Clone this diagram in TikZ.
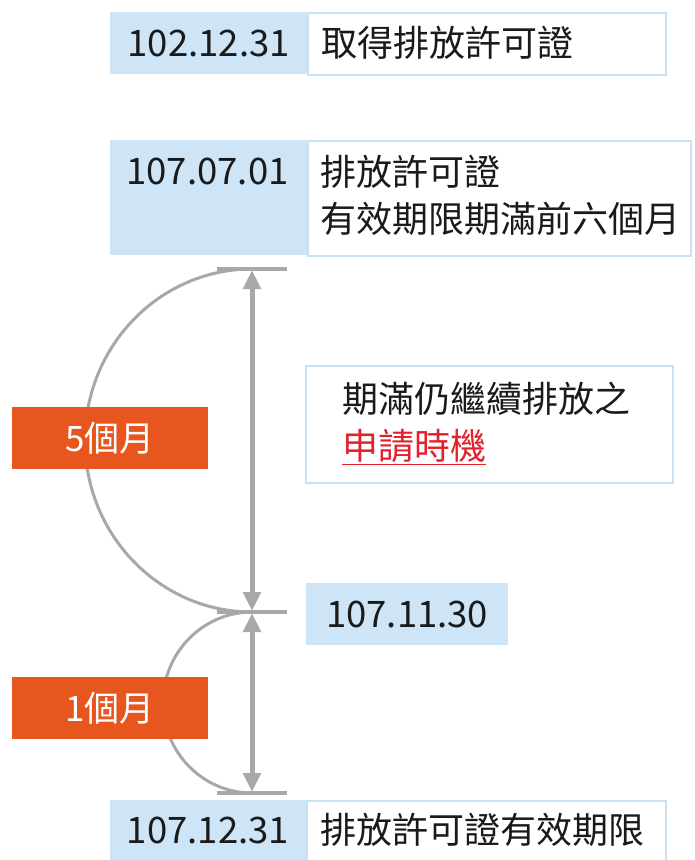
\documentclass[tikz,border=0pt]{standalone}
\usepackage{fontspec}
\setmainfont{Noto Sans CJK TC}
\usetikzlibrary{arrows.meta}
\definecolor{dateblue}{HTML}{CDE5F6}
\definecolor{edgeblue}{HTML}{C9E2F3}
\definecolor{orng}{HTML}{E8561F}
\definecolor{lgray}{HTML}{A8A8A8}
\definecolor{redtxt}{HTML}{E3212D}
\definecolor{ink}{HTML}{1A1A1A}
\begin{document}
\begin{tikzpicture}[x=1pt,y=-1pt,
  datebox/.style={fill=dateblue, inner sep=0pt, anchor=north west},
  datetext/.style={inner sep=0pt, font=\fontsize{36.5}{40}\selectfont, text=ink},
  descbox/.style={fill=white, draw=edgeblue, line width=2pt, inner sep=0pt, anchor=north west},
  desctext/.style={inner sep=0pt, anchor=west, align=left, font=\fontsize{36}{47}\selectfont, text=ink},
  monthbox/.style={fill=orng, inner sep=0pt, minimum width=196pt, minimum height=62pt, text=white, font=\fontsize{35}{40}\selectfont},
  tick/.style={draw=lgray, line width=3.5pt},
  curve/.style={draw=lgray, line width=3pt},
  span/.style={draw=lgray, line width=5pt, {Triangle[width=17pt,length=19pt]}-{Triangle[width=17pt,length=19pt]}, shorten <=1pt, shorten >=1pt}
]
\useasboundingbox (0,0) rectangle (694,860);

% row 1
\node[datebox, minimum width=197pt, minimum height=62pt] (d1) at (110,12) {};
\node[datetext] (d1t) at (d1.center) {102.12.31};
\node[descbox, minimum width=358pt, minimum height=62pt] (t1) at (307,12) {};
\node[desctext] (t1t) at (321,43) {取得排放許可證};

% row 2
\node[datebox, minimum width=197pt, minimum height=115pt] (d2) at (110,140) {};
\node[datetext] (d2t) at (207.5,171) {107.07.01};
\node[descbox, minimum width=383pt, minimum height=115pt] (t2) at (307,140) {};
\node[desctext] (t2t) at (320,195) {排放許可證\\有效期限期滿前六個月};

% middle note
\node[descbox, minimum width=367pt, minimum height=117pt] (note) at (305,365) {};
\node[desctext] (notet) at (342,423) {期滿仍繼續排放之\\\textcolor{redtxt}{\underline{申請時機}}};

% 107.11.30
\node[datebox, minimum width=202pt, minimum height=62pt] (d3) at (306,583) {};
\node[datetext] (d3t) at (d3.center) {107.11.30};

% bottom row
\node[datebox, minimum width=196pt, minimum height=64pt] (d4) at (110,800) {};
\node[datetext] (d4t) at (208,830) {107.12.31};
\node[descbox, minimum width=359pt, minimum height=64pt] (t4) at (306,800) {};
\node[desctext] (t4t) at (320,830) {排放許可證有效期限};

% timeline coordinates
\coordinate (a) at (252,269);
\coordinate (b) at (252,612);
\coordinate (c) at (252,793);

% ticks
\draw[tick] (217,269) -- (287,269);
\draw[tick] (217,612) -- (287,612);
\draw[tick] (217,793) -- (287,793);

% arcs
\draw[curve] (a) .. controls (159.8,269) and (85,345.8) .. (85,440.5)
                 .. controls (85,535.2) and (159.8,612) .. (b);
\draw[curve] (b) .. controls (203,612) and (163,652.5) .. (163,702.5)
                 .. controls (163,752.5) and (203,793) .. (c);

% span arrows
\draw[span] (a) -- (b);
\draw[span] (b) -- (c);

% month labels
\node[monthbox] (m5) at (110,438) {5個月};
\node[monthbox] (m1) at (110,708) {1個月};
\end{tikzpicture}
\end{document}
